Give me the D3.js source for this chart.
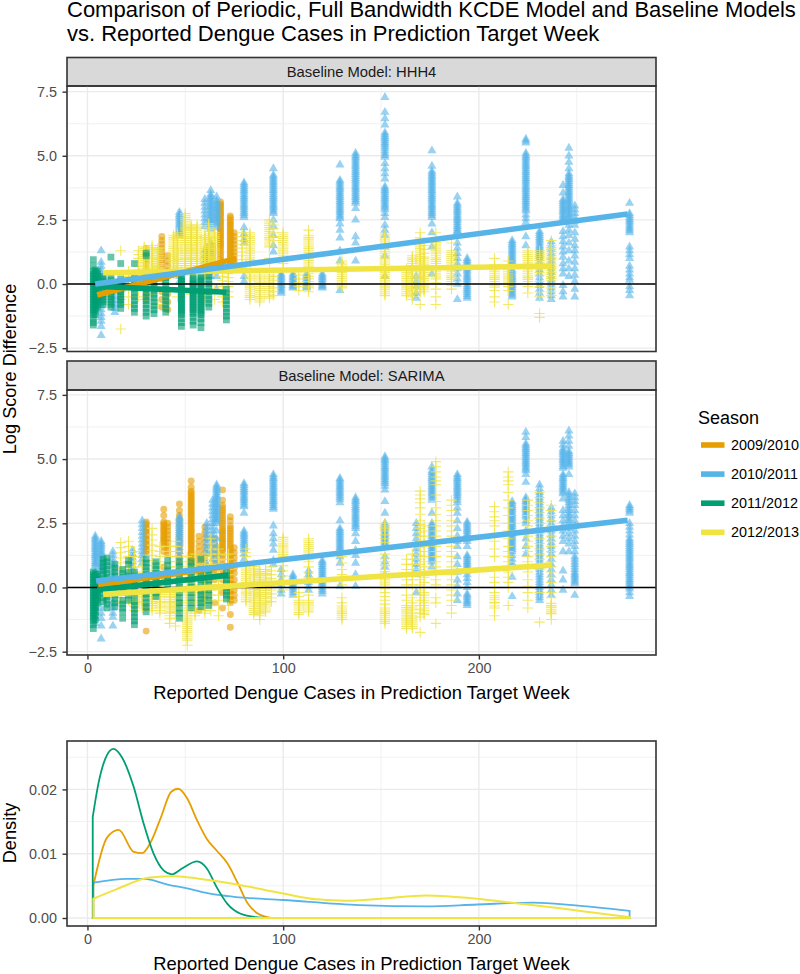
<!DOCTYPE html>
<html>
<head>
<meta charset="utf-8">
<script src="https://cdn.jsdelivr.net/npm/d3@7"></script>
<style>
body { margin: 0; background: #fff; }
text { font-family: "Liberation Sans", Arial, sans-serif; }
</style>
</head>
<body>
<div id="chart"></div>
<script>
var seasons = ["2009/2010", "2010/2011", "2011/2012", "2012/2013"];
var seasonColors = ["#E69F00", "#56B4E9", "#009E73", "#F0E442"];

// each row: cases in the target week, then the log score differences read at that x
var hhh4Orange = [
	[30, 1.4,1.25,1.1,.95,.8,.6,.4,.2,-.2,-.4,-.6],
	[38, 1.85,1.7,1.55,1.4,1.25,1.1,.95,.8,.6,.4,.2,-.3,-.6,-.9],
	[41, 1.1,.9,.7,.5,.3,-.4,-.7,-1],
	[61, 1.45,1.3,1.15,1,.9,.8,.7,.6,.5,.4],
	[64, 1.5,1.35,1.2,1.05,.9,.75,.6,.5],
	[68, 3.2,3.05,2.9,2.75,2.6,2.45,2.3,2.15,2,1.85,1.7,1.55,1.4,1.2,1,.85,.7,.55],
	[73, 2.65,2.5,2.35,2.2,2.05,1.9,1.75,1.6,1.45,1.3,1.15,1,.85,.7,.55],
	[73, 2.58,2.42,2.28,2.12,1.98,1.82,1.68,1.52,1.38,1.22,1.08,.92,.78,.62],
	[75, 2,1.85,1.7,1.55,1.4,1.25,1.1,.95,.8,.65],
	[68, 3.12,2.98,2.82,2.68,2.52,2.38,2.22,2.08,1.92,1.78,1.62,1.48,1.3,1.1,.92,.78,.62]
];
var hhh4Blue = [
	[7, 1.3,.85,.7,.55,.4,.2,-.1,-.4,-.55,-.7,-.85,-1,-1.15,-1.3,-1.45,-1.65,-2],
	[14, -.3,-.5,-.65,-.8,-.95,-1.1],
	[47, 2.8,2.65,2.5,2.35,2.2,2.05,1.9,.3,.1],
	[47, 2.72,2.58,2.42,2.28,2.12,1.98],
	[60, 3.3,3.15,3,2.85,2.7,2.55,2.4,2.25,1.3,1.1,.9],
	[63, 3.65,3.5,3.35,3.2,3.05,2.9,2.75,2.6,2.45,2.3,2.15,1.6,1.2,.8,.3],
	[63, 3.42,3.28,3.12,2.98,2.82,2.68,2.52,2.38],
	[66, 3.4,3.25,3.1,2.95,2.8,2.65,2.5,2.35,2.2,.6,.3,-.2],
	[66, 3.18,3.02,2.88,2.72,2.58,2.42],
	[80, 3.95,3.8,3.65,3.5,3.35,3.2,3.05,2.9,2.75,2.6,2.2,1.95,1.75,1.6,.3,.1],
	[80, 3.88,3.72,3.58,3.42,3.28,3.12,2.98,2.82,2.68],
	[95, 4.5,4.25,4.1,3.95,3.8,3.65,3.5,3.35,3.2,3.05,2.9,2.75,2.5,2.25,1.9,1.5,1.25],
	[95, 4.18,4.02,3.88,3.72,3.58,3.42,3.28,3.12,2.98,2.82],
	[99, .4,.25,.1,-.05,-.2,-.35],
	[99, .32,.18,.02,-.12,-.28],
	[105, .4,.25,.1,-.05,-.15],
	[105, .32,.18,.02,-.1],
	[112, .4,.25,.1,-.05,-.15],
	[112, .32,.18,.02,-.1],
	[120, .4,.25,.1,-.05,-.15],
	[120, .32,.18,.02,-.1],
	[129, 4.65,4.05,3.9,3.75,3.6,3.45,3.3,3.15,3,2.85,2.7,2.55,2.35,2.1,1.8,1.3,.9,-.25],
	[129, 3.98,3.82,3.68,3.52,3.38,3.22,3.08,2.92,2.78,2.62],
	[137, 5.1,4.95,4.8,4.65,4.5,4.35,4.2,4.05,3.9,3.75,3.6,3.45,3.3,3.15,2.95,2.5,1.85,1.6,.9],
	[137, 5.02,4.88,4.72,4.58,4.42,4.28,4.12,3.98,3.82,3.68,3.52,3.38,3.22],
	[152, 7.28,6.7,6.45,6.2,5.9,5.75,5.6,5.45,5.3,5.1,4.95,4.7,4.5,4.3,4.1,3.8,3.65,3.5,3.35,3.2,3.05,2.9,2.75,2.6,2.3,2.1,1.9,1.45,1.1,.6,.3],
	[152, 5.82,5.68,5.52,5.38,5.2,5.02,3.72,3.58,3.42,3.28,3.12,2.98],
	[168, .3,.1,-.1,-.35,-.55],
	[176, 5.2,4.6,4.4,4.25,4.1,3.95,3.8,3.65,3.5,3.35,3.2,3.05,2.9,2.75,2.6,2.35,2,1.45,.4],
	[176, 4.32,4.18,4.02,3.88,3.72,3.58,3.42,3.28,3.12,2.98,2.82,2.68],
	[189, 3.4,3.15,3,2.85,2.7,2.55,2.4,2.25,2.1,2,1.6,1.4,1.2,1,.8,.6,.4,.2,0,-.6],
	[189, 3.08,2.92,2.78,2.62,2.48,2.32,2.18,2.05],
	[194, 1,.85,.7,.55,.4,.25,.1,-.1,-.25,-.4,-.55],
	[194, .92,.78,.62,.48,.32,.18,-.02,-.18,-.32,-.48],
	[217, 1.7,1.55,1.4,1.25,1.1,.95,.8,.55,.4,.25,.1,-.05,-.2,-.35,-.5],
	[217, 1.62,1.48,1.32,1.18,1.02,.88,.48,.32,.18,.02,-.12,-.28,-.42],
	[224, 5.65,5.5,5.1,4.95,4.8,4.65,4.5,4.35,4.2,4.05,3.9,3.75,3.6,3.45,3.3,3.15,3,2.85,2.7,2.55,2.4,1.85,1.5],
	[224, 5.58,5.02,4.88,4.72,4.58,4.42,4.28,4.12,3.98,3.82,3.68,3.52,3.38,3.22,3.08,2.92],
	[231, 2.05,1.9,1.75,1.6,1.45,1.3,1.15,1,.85,.7,.55,.4,.25,.1,-.05,-.2,-.35,-.55],
	[231, 1.98,1.82,1.68,1.52,1.38,1.22,1.08],
	[237, 1.65,1.5,1.35,1.2,1.05,.9,.75,.6,.45,.3,.15,0,-.15,-.3,-.45,-.6],
	[243, 3.85,3.55,3.3,3.15,3,2.85,2.7,2.55,2.4,2.05,1.85,1.65,1.45,1.25,1.05,.8,.6,.4,-.05,-.3,-.5],
	[243, 3.22,3.08,2.92,2.78,2.62,2.48],
	[246, 5.3,5,4.75,4.5,4.3,4.15,4,3.85,3.7,3.55,3.4,3.25,3.1,2.95,2.8,2.65,2.5,2.3,2.1,1.9,1.6,1.3,.9,.6,.3],
	[246, 4.22,4.08,3.92,3.78,3.62,3.48,3.32,3.18,3.02,2.88,2.72,2.58],
	[249, 3.05,2.9,2.75,2.6,2.45,2.3,2,1.75,1.5,1.3,1.1,.85,.6,.35,.1,-.2,-.5],
	[277, 3.15,2.75,2.6,2.45,2.3,2.15,2,1.45,1.3,1.15,1,.7,.55,.4,.25,.15,-.1,-.25,-.45],
	[277, 2.68,2.52,2.38,2.22,2.08]
];
var hhh4Green = [
	[3, .95,.7,.5,.4,.3,.2,.1,0,-.1,-.2,-.3,-.4,-.5,-.6,-.7,-.8,-.9,-1,-1.1,-1.2,-1.35,-1.5,-1.6],
	[4, .55,.45,.35,.25,.15,.05,-.05,-.15,-.25,-.35,-.45,-.55,-.65,-.75,-.85,-.95,-1.05,-1.2],
	[5, .5,.4,.3,.2,.1,0,-.1,-.2,-.3,-.4,-.5,-.6,-.7,-.8,-.9],
	[8, .3,.2,.1,0,-.1,-.2,-.3,-.4,-.5,-.6,-.7,-.8],
	[12, 1.05,.25,.15,.05,-.1,-.2,-.3,-.4,-.5,-.6,-.7,-.8,-.9],
	[17, .8,.2,.1,0,-.1,-.2,-.3,-.4,-.5,-.6,-.7,-.8,-.95],
	[24, .8,.25,.1,-.05,-.2,-.35,-.5,-.65,-.8,-.95,-1.1],
	[30, 1.2,1.1,.25,.1,-.05,-.2,-.35,-.5,-.65,-.8,-.95,-1.1,-1.25],
	[34, .2,.05,-.1,-.25,-.4,-.55,-.7,-.85,-1,-1.15],
	[40, .25,.1,-.05,-.2,-.35,-.5,-.65,-.8,-.95,-1.1],
	[48, .3,.2,.1,0,-.15,-.3,-.45,-.6,-.75,-.9,-1.05,-1.2,-1.35,-1.5,-1.65],
	[48, .12,-.08,-.22,-.38,-.52,-.68,-.82,-.98,-1.12],
	[54, .35,.2,.05,-.1,-.25,-.4,-.55,-.7,-.85,-1,-1.15,-1.3,-1.45,-1.6],
	[54, .12,-.02,-.18,-.32,-.48,-.62,-.78,-.92,-1.08],
	[58, .3,.15,0,-.15,-.3,-.45,-.6,-.75,-.9,-1.05,-1.2,-1.35,-1.5,-1.7],
	[58, .22,.08,-.08,-.22,-.38,-.52,-.68,-.82,-.98,-1.12],
	[62, .3,.15,0,-.15,-.3,-.45,-.6,-.75,-.9],
	[71, -.2,-.35,-.5,-.65,-.8,-.95,-1.1,-1.25,-1.4]
];
var hhh4Yellow = [
	[17, 1.3,-.3,-.6,-1.75],
	[21, .5,.3,.2,-.2,-.5,-.8],
	[26, 1.3,1.15,1,.85,.7,.55,.4,-.2,-.5],
	[29, 1.45,1.3,1.15,1,.85,.7,.55,.4,-.6],
	[29, 1.38,1.22,1.08,.92,.78,.62,.48],
	[33, 1.5,1.35,1.2,1.05,.9,.75,.6,-.2,-.4],
	[33, 1.42,1.28,1.12,.98,.82,.68],
	[36, 1.4,1.25,1.1,.95,.8,.65,.5,-.8],
	[36, 1.32,1.18,1.02,.88,.72,.58],
	[44, 1.9,1.75,1.6,1.45,1.3,1.15,1,.85,.7,.55,.4],
	[44, 1.82,1.68,1.52,1.38,1.22,1.08,.92,.78,.62,.48],
	[46, 2,1.85,1.7,1.55,1.4,1.25,1.1,.95,.8,.65,.5,-.5],
	[46, 1.92,1.78,1.62,1.48,1.32,1.18,1.02,.88,.72,.58],
	[50, 2.75,2.6,2.45,2.3,2.15,2,1.85,1.7,1.55,1.4,1.25,1.1,.95,.8,.65,.5],
	[50, 2.68,2.52,2.38,2.22,2.08,1.92,1.78,1.62,1.48,1.32,1.18,1.02,.88,.72,.58],
	[53, 2.3,2.15,2,1.85,1.7,1.55,1.4,1.25,1.1,.95,.8,.65,.5,.35,-.4],
	[53, 2.22,2.08,1.92,1.78,1.62,1.48,1.32,1.18,1.02,.88,.72,.58,.42],
	[56, 2.3,2.15,2,1.85,1.7,1.55,1.4,1.25,1.1,.95,.8],
	[56, 2.22,2.08,1.92,1.78,1.62,1.48,1.32,1.18,1.02,.88],
	[60, 1.9,1.75,1.6,1.45,1.3,1.15,1,.85,.7,.55,.4,-.4,-.6],
	[60, 1.82,1.68,1.52,1.38,1.22,1.08,.92,.78,.62,.48],
	[62, 2.35,2.2,2.05,1.9,1.75,1.6,1.45,1.3,1.15,1,.85,.7,.55],
	[62, 2.28,2.12,1.98,1.82,1.68,1.52,1.38,1.22,1.08,.92,.78,.62],
	[65, 2,1.85,1.7,1.55,1.4,1.25,1.1,.95,.8,.65,.5,-.2,-.6],
	[65, 1.92,1.78,1.62,1.48,1.32,1.18,1.02,.88,.72,.58],
	[69, .6,.45,.3,.15,-.1,-.3,-.5,-.7],
	[72, .55,.4,.25,.1,-.1,-.3,-.5],
	[79, 2,1.85,1.7,1.55,1.4,1.25,1.1,.95,.8,.65],
	[83, 2,1.85,1.7,1.55,1.4,1.25,1.1,.95,.8,.35,.2,0,-.15,-.3,-.45,-.6],
	[83, 1.92,1.78,1.62,1.48,1.32,1.18,1.02,.88,.28,.12,-.08,-.22,-.38,-.52],
	[88, .35,.2,.05,-.1,-.25,-.4,-.55,-.7],
	[88, .28,.12,-.02,-.18,-.32,-.48,-.62],
	[93, 2.5,2.35,2.2,2.05,1.9,1.75,1.6,1.45,1,.85,.35,.2,.05,-.1,-.25,-.4,-.55],
	[93, 2.42,2.28,2.12,1.98,1.82,1.68,1.52,.28,.12,-.02,-.18,-.32,-.48],
	[95, 2.3,2.15,2,1.85,1.7,.3,.15,0,-.15,-.3,-.45],
	[100, 2,1.85,1.7,1.55,1.4,1.25,1.1,.95,.8],
	[100, 1.92,1.78,1.62,1.48,1.32,1.18,1.02,.88],
	[108, .35,.2,.05,-.1,-.25],
	[113, 2.1,1.9,1.75,1.6,1.45,1.3,1.15,1,.85,.7,.4,.2,0,-.15,-.3],
	[113, 1.82,1.68,1.52,1.38,1.22,1.08,.92,.78,.3,.1,-.08],
	[130, .9,.75,.6,.45,.3,.15,0,-.15],
	[130, .82,.68,.52,.38,.22,.08,-.08],
	[152, 1.95,1.8,1.65,1.5,1.35,1.2,1.05,.9,.75,.6,.45,.3,.15,0,-.15,-.3,-.45],
	[152, 1.88,1.72,1.58,1.42,1.28,1.12,.98,.82,.68,.52,.38,.22,.08,-.08,-.22,-.38],
	[163, .6,.45,.3,.15,0,-.15,-.3,-.45],
	[163, .52,.38,.22,.08,-.08,-.22,-.38],
	[166, 1.1,.95,.8,.65,.5,.35,.2,.05,-.1,-.25,-.4,-.6],
	[166, 1.02,.88,.72,.58,.42,.28,.12,-.02,-.18,-.32,-.5],
	[170, 2,1.8,1.6,1.45,1.3,1.15,1,.85,.7,.55,.4,.25,.1,-.05,-.2,-.35,-.8],
	[170, 1.52,1.38,1.22,1.08,.92,.78,.62,.48,.32,.18,.02,-.12,-.28],
	[172, 1.5,1.35,1.2,1.05,.9,.75,.6,.45,.3,.15,0,-.15,-.3],
	[172, .98,.82,.68,.52,.38,.22,.08,-.08,-.22],
	[178, 2,1.7,1.55,1.4,1.25,1.1,.95,.8,.65,.5,.35,.2,.05,-.2,-.5,-.8],
	[178, 1.62,1.48,1.32,1.18,1.02,.88,.72,.58,.42,.28],
	[186, 1.6,1.3,1.15,1,.85,.7,.55,.4,.25,.1,-.05,-.2],
	[186, 1.22,1.08,.92,.78,.62,.48,.32,.18,.02],
	[208, 1,.75,.55,.4,.25,.1,-.05,-.25,-.5,-.7],
	[208, .62,.48,.32,.18,.02,-.12],
	[215, .9,.65,.5,.35,.2,.05,-.1,-.25,-.8],
	[215, .58,.42,.28,.12,-.02],
	[225, 1.3,1.15,1,.85,.7,.55,.4,.25,.1,-.1,-.35],
	[225, 1.22,1.08,.92,.78,.62,.48,.32,.18],
	[231, 1.3,1.15,1,.85,.7,.55,.35,.1,-.1,-.3,-.5,-1.15,-1.3],
	[231, 1.22,1.08,.92,.78,.62,.45],
	[237, 1.7,1.5,1.35,1.2,1.05,.9,.75,.6,.45,.3,.15,0,-.15,-.3,-.45],
	[237, 1.42,1.28,1.12,.98,.82,.68,.52,.38,.22]
];

var sarimaOrange = [
	[30, 2.55,2.4,2.25,2.1,1.95,1.8,1.65,1.5,1.35,.3,-.8,-1.7],
	[30, 2.48,2.32,2.18,2.02,1.88,1.72,1.58,1.42],
	[39, 3.05,2.8,2.55,2.4,2.25,2.1,1.95,1.8,1.6,1.4,.8,.4],
	[39, 2.48,2.32,2.18,2.02,1.88,1.72],
	[41, 2.5,2.35,2.2,2.05,1.9,1.75,1.6,1.45,1.3,.6],
	[47, 3.25,3,2.8,2.6,2.4,2.2,2,1.8,1.6,1.4,1.2,1,.7,.4,-.6],
	[53, 4.15,3.9,3.75,3.6,3.45,3.3,3.15,3,2.85,2.7,2.55,2.4,2.25,2.1,1.95,1.8,1.65,1.5,1.35,1.2,1.05,.9,.7,.5],
	[53, 3.68,3.52,3.38,3.22,3.08,2.92,2.78,2.62,2.48,2.32,2.18,2.02,1.88,1.72,1.58,1.42,1.28,1.12,.98],
	[57, 2,1.8,1.6,1.4,1.2,1,.8,.6,.4,-.9],
	[60, 2.35,2.15,1.95,1.75,1.55,1.35,1.15,.95,.75,.55,.35,.15,-.1,-.4],
	[65, 1.9,1.7,1.5,1.3,1.1,.9,.7,.5,.3,-.6],
	[69, 3.8,3.4,3.1,2.9,2.7,2.5,2.3,2.15,2,1.85,1.7,1.55,1.4,1.25,1.1,.9,.7,.5,.3,-.2,-.8],
	[69, 3.2,3,2.8,2.6,2.4,2.22,2.08,1.92,1.78,1.62,1.48],
	[73, 2.75,2.6,2.4,2.2,2,1.8,1.6,1.4,1.2,1,.8,.6,.4,.2,0,-.2,-.4,-.6,-1.05,-1.55],
	[73, 2.3,2.1,1.9,1.7,1.5,1.3,1.1,.9,.7,.5,.3,.1,-.1,-.3,-.5],
	[75, 1.55,1.35,1.15,.95,.75,.55,.3,.1,-.1,-.3,-.5]
];
var sarimaBlue = [
	[4, 2,1.85,1.7,1.55,1.4,1.25,1.1,.95,.8,.6,.4,.2,-.4,-.6,-.8,-1,-1.2,-1.4],
	[4, 1.92,1.78,1.62,1.48,1.32,1.18,1.02,.88],
	[7, 1.8,1.65,1.5,1.35,1.2,1,.8,.6,-.8,-1,-1.2,-1.5,-2],
	[7, 1.72,1.58,1.42,1.28,1.1,.9,.7],
	[13, 1.4,1.25,1.1,.95,.8,.6,.4,-.6,-.8,-1,-1.15,-1.5],
	[23, 1.45,1.3,1.15,1,.85,.7],
	[28, 2.6,2.45,2.3,2.15,2,1.85,1.7,1.55,1.4,1.25,1.1,.95],
	[47, 2.75,2.6,2.45,2.3,2.15,2,1.85,1.7,1.55,1.4,1.2,.9],
	[47, 2.68,2.52,2.38,2.22,2.08,1.92,1.78],
	[61, 2.5,2.35,2.2,2.05,1.9,1.75,1.6,1.45,1.3,.9,.6],
	[64, 3.4,3.25,3.1,2.95,2.8,2.65,2.5,2.35,2.2,2.05,1.9,1.7,1.4,1.1],
	[66, 4,3.85,3.7,3.55,3.4,3.25,3.1,2.95,2.8,2.65,2.5,2.2,1.9,1.6,1.3,1],
	[66, 3.92,3.78,3.62,3.48,3.32,3.18,3.02,2.88,2.72,2.58],
	[80, 4.05,3.9,3.75,3.6,3.45,3.3,3.15,2.9,2.2,2.05,1.9,1.75,1.6,1.45,1.3,1.1],
	[80, 3.98,3.82,3.68,3.52,3.38,3.22,2.12,1.98,1.82,1.68,1.52],
	[95, 4.4,4.25,4.1,3.95,3.8,3.65,3.5,3.35,3.2,3.05,2.4,2.1,1.9,1.7,1.45,1.05,.9],
	[95, 4.32,4.18,4.02,3.88,3.72,3.58,3.42,3.28,3.12],
	[99, .7,.5,.3,.1,-.1,-.25],
	[105, .5,.35,.2,.05,-.1,-.3],
	[105, .42,.28,.12,-.02,-.2],
	[113, .65,.5,.35,.2,.05,-.1],
	[120, 1.05,.9,.75,.6,.45,.3,.15,0,-.15,-.25],
	[120, .98,.82,.68,.52,.38,.22,.08,-.08],
	[129, 4.25,4.1,3.95,3.8,3.65,3.5,3.3,2.6,2.3,2.15,2,1.85,1.7,1.55,1.4,1.2,.95,.05],
	[129, 4.18,4.02,3.88,3.72,3.58,3.42,2.22,2.08,1.92,1.78,1.62,1.48],
	[137, 3.5,3.35,3.2,3.05,2.9,2.75,2.6,2.45,2.3,2.1,1.8,1.45,1.25,.95,.5,.05],
	[137, 3.42,3.28,3.12,2.98,2.82,2.68,2.52,2.38],
	[152, 5.1,4.95,4.8,4.65,4.5,4.35,4.2,4.05,3.8,3.35,2.9,2.5,2.35,2.2,2.05,1.9,1.75,1.6,1.2,1,.8,.5],
	[152, 5.02,4.88,4.72,4.58,4.42,4.28,4.12,3.95,2.42,2.28,2.12,1.98,1.82,1.68],
	[168, 2.5,2.3,2.1,1.9,1.7,1.5,1.3,1.1,.9,.7,.5,-.2],
	[176, 4.7,4.55,4.4,4.25,4.1,3.95,3.8,3.65,3.5,3.4,2.9,2.5,2.35,2.2,2.05,1.9,1.75,1.6,1.45,1.3,1.15,1,.8],
	[176, 4.48,4.32,4.18,4.02,3.88,3.72,3.58,2.42,2.28,2.12,1.98,1.82,1.68,1.52,1.38,1.22,1.08],
	[189, 4.4,4.25,4.1,3.95,3.8,3.65,3.5,3.3,3.1,2.9,2.6,2.3,2,1.8,1.6,1.2,.9,.6,.3,.05,-.25,-.5],
	[189, 4.32,4.18,4.02,3.88,3.72,3.58,3.4],
	[194, 2.55,2.4,2.25,2.1,1.95,1.8,1.6,1.25,1.1,.95,.8,.65,.5,.35,.2,0,-.25,-.4,-.55,-.7],
	[194, 2.48,2.32,2.18,2.02,1.88,1.18,1.02,.88,.72,-.32,-.48,-.62],
	[217, 3.35,3.2,3.05,2.9,2.75,2.6,2.45,2.3,2.15,2,1.85,1.7,1.55,1.4,1.25,1.1,.95,.8,.4,-.35],
	[217, 3.28,3.12,2.98,2.82,2.68,2.52,2.38,2.22,2.08,1.92,1.78,1.62,1.48],
	[224, 6.05,5.85,5.6,5.45,5.3,5.15,5,4.85,4.7,4.55,4.4,4.1,3.5,3.35,3.2,3.05,2.9,2.75,2.6,2.5,2.2,1.9,1.6,1.3],
	[224, 5.52,5.38,5.22,5.08,4.92,4.78,4.62,3.42,3.28,3.12,2.98,2.82],
	[231, 4,3.85,3.7,3.5,3.3,3.1,2.9,2.7,2.5,2.3,2.1,1.9,1.7,1.5,1.3,1.1,.9,.7,.5,.3,.1,-.1,-.3,-.5],
	[231, 3.6,3.4,3.2,3,2.8,2.6,2.4,2.2,2,1.8,1.6,1.4,1.2,1,.8,.6,.4,.2,0,-.2,-.4],
	[237, 3.1,2.95,2.8,2.65,2.5,2.35,2.2,2.05,1.9,1.75,1.6,1.45,1.3,1.1,.9,.7,.5,.3,.1,-.1,-.3],
	[243, 5.7,5.55,5.4,5.25,5.1,4.95,4.8,4.65,4.4,4.25,4.1,3.95,3.8,3.65,3.45,3,2.8,2.6,2.4,2.2,2,1.8,1.4,.65,.3,-.1],
	[243, 5.32,5.18,5.02,4.88,4.72,4.32,4.18,4.02,3.88,3.72],
	[246, 6.1,5.9,5.7,5.5,5.3,5.15,5,4.85,4.7,4.4,3.7,3.5,3.3,3.1,2.9,2.7,2.5,2.3,2.1,1.9,1.7,1.4],
	[246, 5.22,5.08,4.92,4.78,3.6,3.4,3.2,3,2.8,2.6],
	[249, 3.65,3.5,3.35,3.2,3,2.8,2.6,2.4,2.2,2,1.8,1.6,1.4,1.2,1,.8,.6,.45,.3,.15,-.3],
	[249, 1.1,.9,.7,.52,.38,.22],
	[277, 3.2,3.05,2.9,2.5,2.35,2.2,2.05,1.9,1.75,1.6,1.45,1.3,1.15,1,.85,.7,.55,.4,.25,.1,-.05,-.2,-.35],
	[277, 3.12,2.98,1.82,1.68,1.52,1.38,1.22,1.08,.92,.78,.62,.48,.32,.18,.02]
];
var sarimaGreen = [
	[3, .6,.5,.4,.3,.2,.1,0,-.1,-.2,-.3,-.4,-.5,-.6,-.7,-.8,-.9,-1,-1.1,-1.2,-1.3,-1.45,-1.6],
	[4, .55,.45,.35,.25,.15,.05,-.05,-.15,-.25,-.35,-.45,-.55,-.65,-.75,-.85,-.95,-1.1,-1.25],
	[5, .5,.4,.3,.2,.1,0,-.1,-.2,-.3,-.4,-.5,-.6],
	[8, 1.1,.95,.8,.65,.5,.35,.2,.05,-.1,-.25,-.4,-.55],
	[10, 1.15,1,.85,.7,.55,.4,.25,.1,-.05,-.2,-.35,-.5,-.65,-.8],
	[14, .9,.75,.6,.45,.3,.15,0,-.15,-.3,-.45,-.6,-.75],
	[18, .7,.55,.4,.25,.1,-.05,-.2,-.5,-.65,-.8,-.95,-1.2],
	[21, 1.05,.9,.6,.45,.3,.15,-.1,-.3,-.5],
	[24, .6,.45,.3,.15,0,-.15,-.3,-.55,-.7,-.85,-1,-1.15,-1.3,-1.45],
	[30, 1.1,.95,.8,.65,.5,.35,.2,.05,-.1,-.25,-.4,-.6,-.75,-.95],
	[35, 1,.85,.7,.55,.4,.25,.1,-.05,-.2,-.35],
	[41, 1.05,.85,.65,.45,.25,.05],
	[47, 1,.8,.6,.4,.2,0,-.2,-.4,-.6,-.8,-1,-1.2],
	[53, 1,.8,.6,.4,.2,0,-.2,-.4,-.6,-.8],
	[58, 1.1,.7,.5,.3,.1,-.15,-.3,-.45,-.6,-.75],
	[62, .7,.5,.3,.1,-.1,-.3,-.5,-.7],
	[71, .6,.45,.3,.15,0,-.15,-.3,-.45]
];
var sarimaYellow = [
	[17, 1.75,1.55,1.35,1.15,.95,.75,.55,-.4,-.6],
	[21, 1.8,1.6,1.4,1.2,1,.8,.6,-.5],
	[24, 1.4,1.2,1,.8,.6,.4,.2,-.3,-.6,-.9],
	[24, -.15,-.22,-.38,-.45,-.52,-.68,-.75],
	[28, 1,.8,.6,.4,.2,0,-.2,-.4,-.6],
	[28, -.12,-.28,-.35,-.48,-.55,-.68,-.8],
	[33, 2.3,2.05,1.85,1.65,1.45,1.25,1.05,.85,.65,.45,.25,.05,-.15,-.35,-.55],
	[33, -.08,-.25,-.42,-.48,-.62,-.7,-.8,-.9],
	[37, 1.6,1.4,1.2,1,.8,.6,.4,.2,0,-.2,-.4,-.6,-.8],
	[37, -.12,-.28,-.35,-.48,-.55,-.68,-.75,-.9,-1],
	[42, 1.6,1.4,1.2,1,.8,.6,.4,.2,0,-.2,-.4,-.6,-.8,-1,-1.2,-1.4],
	[42, -.1,-.28,-.35,-.48,-.55,-.68,-.75,-.88,-.95,-1.1],
	[45, 1.8,1.6,1.4,1.2,1,.8,.6,.4,.2,0,-.2,-.4,-.6,-.8,-1,-1.2,-1.5],
	[45, -.12,-.28,-.35,-.48,-.55,-.68,-.75,-.88,-.95],
	[51, 1.2,1,.8,.6,.4,.2,0,-.2,-.4,-.6,-.8,-1,-1.15,-1.3,-1.45,-1.6,-1.75,-1.9,-2.05,-2.25],
	[51, -.1,-.3,-.5,-.7,-.9,-1.08,-1.22,-1.38,-1.52,-1.68,-1.82,-1.98],
	[55, 1.3,1.1,.9,.7,.5,.3,.1,-.1,-.3,-.5,-.7,-.9,-1.1],
	[55, -.2,-.4,-.6,-.8,-1],
	[60, 1.2,1,.8,.6,.4,.2,0,-.2,-.4,-.6,-.8,-1],
	[60, -.1,-.3,-.5,-.7,-.9],
	[63, 1.9,1.7,1.5,1.3,1.1,.9,.7,.5,.3,.1,-.1,-.3,-.5,-.9],
	[67, 1.5,1.3,1.1,.9,.7,.5,.3,.1,-.1,-.3,-.5,-.7,-1.1],
	[72, 1.3,1.1,.9,.7,.5,.3,.1,-.1,-.3,-.5,-.7],
	[81, 1.5,1.35,1.2,.95,.8,.65,.5,.35,.2,.05,-.1,-.25,-.4,-.55],
	[81, .88,.72,.58,.42,.28,.12,-.02,-.18,-.32,-.48],
	[85, .9,.75,.6,.45,.3,.15,0,-.15,-.3,-.45,-.6,-.75,-.9,-1.05],
	[85, .82,.68,.52,.38,.22,.08,-.08,-.22,-.38,-.52,-.68,-.82,-.98],
	[88, .7,.55,.4,.25,.1,-.05,-.2,-.35,-.5,-.65,-.8,-.95,-1.1,-1.25],
	[88, .62,.48,.32,.18,.02,-.12,-.28,-.42,-.58,-.72,-.88,-1.02],
	[91, .7,.55,.4,.25,.1,-.05,-.2,-.35,-.5,-.65,-.8,-.95],
	[91, .62,.48,.32,.18,.02,-.12,-.28,-.42,-.58,-.72,-.88],
	[94, .8,.65,.5,.35,.2,.05,-.1,-.25,-.4,-.55],
	[100, 1.95,1.8,1.65,1.5,1.35,1.2,1.05,.85,.65,.45,.25,-.1],
	[100, 1.88,1.72,1.58,1.42,1.28,1.12],
	[108, -.2,-.35,-.5,-.65,-.8,-1.05],
	[108, -.58,-.72,-.88,-.98],
	[113, 1.9,1.75,1.6,1.45,1.3,1.15,1,.8,.6,.4,-.3,-.5,-.65,-.8,-.95],
	[113, 1.82,1.68,1.52,1.38,1.22,1.08,-.58,-.72,-.88],
	[130, 1.2,.95,.7,.5,.3,.1,-.4,-.6,-.8,-.95,-1.1,-1.25],
	[130, -.72,-.88,-1.02,-1.18],
	[152, 2.5,2.35,2.2,2.05,1.9,1.75,1.3,1.15,1,.85,.7,.55,.4,.25,.1,-.05,-.2,-.35,-.5,-.65,-.8,-.95,-1.1,-1.25,-1.4],
	[152, 2.42,2.28,.62,.48,.32,.18,-.88,-1.02,-1.18,-1.32],
	[163, 1.1,.9,.7,.5,.3,.1,-.3,-.5,-.7,-.85,-1,-1.15,-1.3,-1.45,-1.6],
	[163, -.78,-.92,-1.08,-1.22,-1.38,-1.52],
	[166, 1.3,1.1,.9,.7,.5,.3,.1,-.4,-.6,-.8,-1,-1.15,-1.3,-1.45,-1.6],
	[166, -.72,-.88,-1.08,-1.22,-1.38,-1.52],
	[170, 3.75,3.6,3.45,3.3,3.1,2.85,2.6,2.45,2.3,2.15,2,1.85,1.7,1.55,1.4,1.25,1.1,.9,.7,.5,.3,.1,-.1,-.3,-.5,-.7,-.85,-1,-1.15,-1.75],
	[172, 2.4,2.2,2,1.8,1.6,1.4,1.2,1,.8,.6,.4,.2,0,-.2,-.4,-.6,-.8,-1],
	[172, -.3,-.5,-.7,-.9,-1.05],
	[178, 4.9,4.7,4.5,4.3,4.15,4,3.6,3.35,3.1,2.85,2.6,2.4,2.2,2,1.8,1.6,1.4,1.2,1,.8,.6,.3,.1,-.4,-.6,-1.4],
	[186, 3.4,3.2,3,2.8,2.6,2.4,2.2,2,1.8,1.6,1.4,1.2,1,.8,.5,.3,.1,-.1,-.3,-.5,-.7,-1],
	[208, 3.15,2.95,2.75,2.6,2.4,2.1,1.8,1.5,1.2,.4,.2,0,-.2,-.4,-.6,-.8,-1.1],
	[208, -.32,-.48,-.58,-.72],
	[215, 4.5,4.3,4.15,4,3.7,3.4,3.1,2.8,2.5,2.2,1.9,1.6,1.4,1.2,1,.8,.6,.4,.2,0,-.7],
	[225, 3.4,3.2,3,2.8,2.6,2.4,2.2,2,1.8,1.6,1.4,1.2,1,.8,.6,.3,.05,-.2,-.5,-.8],
	[231, 3.7,3.5,3.3,3.1,2.9,2.7,2.5,2.3,2.1,1.9,1.7,1.5,1.3,1.1,.9,.7,-.2,-1.35],
	[237, 3.2,3,2.8,2.6,2.4,2.2,2,1.8,1.6,1.4,1.2,1,.8,.6,.4,.2,0,-.2,-.4,-.7,-.85,-1,-1.25],
	[237, -.62,-.72,-.78,-.92,-1.02]
];

// end points of the fitted lines, one array per season
var hhh4LineX = [[5, 76], [4, 276], [4, 71], [8, 237]];
var hhh4LineY = [[-.43, 1], [0, 2.73], [-.08, -.32], [.44, .7]];
var sarimaLineX = [[5.5, 73], [4.4, 276], [5, 72], [8, 237]];
var sarimaLineY = [[.1, .85], [.25, 2.62], [-.1, .48], [-.27, .87]];

var densityX = [
	[3, 10, 16, 23.6, 28, 32, 37.6, 42.7, 46.4, 51, 56, 61, 66, 71.5, 77, 82, 87, 94],
	[3, 20, 29, 41, 51, 64, 75, 100, 139, 173, 199, 228, 248, 277],
	[2.7, 5.6, 9.9, 13.3, 17.6, 23.6, 28.7, 33.8, 38.9, 43.2, 48.3, 56, 61, 66, 71.5, 78, 87, 92],
	[3, 15, 32, 45, 57, 75, 100, 117, 132, 150, 173, 199, 219, 241.5, 265, 277]
];
var densityY = [
	[.005, .0125, .0137, .0103, .0101, .0116, .0157, .0196, .0201, .0186, .0152, .0123, .0105, .0085, .0053, .0022, .0007, 0],
	[.0055, .0061, .0061, .0052, .0046, .0037, .0033, .0028, .002, .0018, .0021, .0024, .002, .0011],
	[.0157, .0209, .0253, .0263, .025, .0204, .0147, .01, .0074, .0068, .0077, .0088, .0077, .0048, .0022, .0007, .0001, 0],
	[.003, .0045, .0063, .0065, .0061, .0053, .0038, .0029, .0027, .003, .0035, .003, .0023, .0015, .0006, .00015]
];

var xTicks = [0, 100, 200], xMinor = [50, 150, 250];
var scoreTicks = [-2.5, 0, 2.5, 5, 7.5], scoreMinor = [-1.25, 1.25, 3.75, 6.25];
var densityTicks = [0, .01, .02], densityMinor = [.005, .015, .025];
var xTitle = "Reported Dengue Cases in Prediction Target Week";
var titleLines = [
	"Comparison of Periodic, Full Bandwidth KCDE Model and Baseline Models",
	"vs. Reported Dengue Cases in Prediction Target Week"
];

var conf = { width: 800, height: 974, left: 67, right: 656 };
var borderColor = "#333333", gridColor = "#ebebeb", tickColor = "#4d4d4d";
var fontFamily = '"Liberation Sans", Arial, sans-serif';

var $svg = d3.select("#chart").append("svg")
	.attr("width", conf.width)
	.attr("height", conf.height);

var x = d3.scaleLinear().domain([-10.45, 290.5]).range([conf.left, conf.right]);

// ggplot shape 3, drawn as a stroked plus
var plusType = {
	draw: function(ctx, size) {
		var r = Math.sqrt(size) / 2;
		ctx.moveTo(-r, 0); ctx.lineTo(r, 0);
		ctx.moveTo(0, -r); ctx.lineTo(0, r);
	}
};

var seasonSymbols = [
	d3.symbol().type(d3.symbolCircle).size(38),
	d3.symbol().type(d3.symbolTriangle).size(36),
	d3.symbol().type(d3.symbolSquare).size(46),
	d3.symbol().type(plusType).size(110)
];

var flatten = function(rows) {
	var res = [];
	rows.forEach(function(row) {
		row.slice(1).forEach(function(v) { res.push({ x: row[0], y: v }); });
	});
	return res;
};

var drawGrid = function($g, y, yTicks, yMinor, top, bottom) {
	$g.selectAll("line.minor-x").data(xMinor).enter().append("line").attr("class", "minor-x")
		.attr("x1", x).attr("x2", x).attr("y1", top).attr("y2", bottom)
		.attr("stroke", gridColor).attr("stroke-width", 0.7);
	$g.selectAll("line.minor-y").data(yMinor).enter().append("line").attr("class", "minor-y")
		.attr("x1", conf.left).attr("x2", conf.right).attr("y1", y).attr("y2", y)
		.attr("stroke", gridColor).attr("stroke-width", 0.7);
	$g.selectAll("line.major-x").data(xTicks).enter().append("line").attr("class", "major-x")
		.attr("x1", x).attr("x2", x).attr("y1", top).attr("y2", bottom)
		.attr("stroke", gridColor).attr("stroke-width", 1.4);
	$g.selectAll("line.major-y").data(yTicks).enter().append("line").attr("class", "major-y")
		.attr("x1", conf.left).attr("x2", conf.right).attr("y1", y).attr("y2", y)
		.attr("stroke", gridColor).attr("stroke-width", 1.4);
};

var drawBorder = function($g, top, bottom) {
	$g.append("rect")
		.attr("x", conf.left).attr("y", top)
		.attr("width", conf.right - conf.left).attr("height", bottom - top)
		.attr("fill", "none").attr("stroke", borderColor).attr("stroke-width", 1.6);
};

var styleAxis = function($axis) {
	$axis.select(".domain").remove();
	$axis.selectAll(".tick line").attr("stroke", borderColor).attr("stroke-width", 1.4);
	$axis.selectAll(".tick text")
		.attr("fill", tickColor)
		.style("font-size", "14.4px")
		.style("font-family", fontFamily);
};

var drawXAxis = function($g, bottom) {
	$g.append("g")
		.attr("transform", "translate(0," + bottom + ")")
		.call(d3.axisBottom(x).tickValues(xTicks).tickSize(4.5).tickPadding(3).tickFormat(d3.format("d")))
		.call(styleAxis);
	$g.append("text")
		.attr("x", 361.5)
		.attr("y", bottom + 44)
		.attr("text-anchor", "middle")
		.attr("fill", "#000")
		.style("font-size", "18.4px")
		.text(xTitle);
};

var drawPanel = function(name, rows, lineX, lineY, top, bottom, stripTop, domain, showX) {
	var y = d3.scaleLinear().domain(domain).range([bottom, top]);
	var $g = $svg.append("g").attr("class", "panel");

	$g.append("rect")
		.attr("x", conf.left).attr("y", stripTop)
		.attr("width", conf.right - conf.left).attr("height", top - stripTop)
		.attr("fill", "#d9d9d9").attr("stroke", borderColor).attr("stroke-width", 1.6);
	$g.append("text")
		.attr("x", 361.5)
		.attr("y", (stripTop + top) / 2 + 5)
		.attr("text-anchor", "middle")
		.attr("fill", "#1a1a1a")
		.style("font-size", "14.8px")
		.text("Baseline Model: " + name);

	drawGrid($g, y, scoreTicks, scoreMinor, top, bottom);

	// green sits on top of the other seasons in the picture
	[0, 1, 3, 2].forEach(function(s) {
		var $pts = $g.append("g").attr("class", "season-" + s);
		$pts.selectAll("path").data(flatten(rows[s])).enter().append("path")
			.attr("transform", function(d) { return "translate(" + x(d.x) + "," + y(d.y) + ")"; })
			.attr("d", seasonSymbols[s])
			.attr("fill", s === 3 ? "none" : seasonColors[s])
			.attr("stroke", s === 3 ? seasonColors[s] : "none")
			.attr("stroke-width", s === 3 ? 1.1 : 0)
			.attr("opacity", s === 3 ? 0.8 : 0.6);
	});

	$g.append("line")
		.attr("x1", conf.left).attr("x2", conf.right)
		.attr("y1", y(0)).attr("y2", y(0))
		.attr("stroke", "#000").attr("stroke-width", 1.6);

	var line = d3.line()
		.x(function(d) { return x(d[0]); })
		.y(function(d) { return y(d[1]); });

	// blue was drawn last in the picture
	[0, 2, 3, 1].forEach(function(s) {
		$g.append("path")
			.attr("d", line(d3.zip(lineX[s], lineY[s])))
			.attr("fill", "none")
			.attr("stroke", seasonColors[s])
			.attr("stroke-width", 5.6);
	});

	drawBorder($g, top, bottom);

	$g.append("g")
		.attr("transform", "translate(" + conf.left + ",0)")
		.call(d3.axisLeft(y).tickValues(scoreTicks).tickSize(4.5).tickPadding(5.5)
			.tickFormat(d3.format(".1f")))
		.call(styleAxis);

	if (showX) drawXAxis($g, bottom);
};

drawPanel("HHH4", [hhh4Orange, hhh4Blue, hhh4Green, hhh4Yellow], hhh4LineX, hhh4LineY,
	86, 351.5, 57.5, [-2.63, 7.72], false);
drawPanel("SARIMA", [sarimaOrange, sarimaBlue, sarimaGreen, sarimaYellow], sarimaLineX, sarimaLineY,
	390, 655, 361, [-2.63, 7.69], true);

// density panel
var drawDensity = function(top, bottom) {
	// y(0) lands on a whole pixel so the yellow baseline hides the ones under it
	var y = d3.scaleLinear().domain([-.001244, .02753]).range([bottom, top]);
	var $g = $svg.append("g").attr("class", "density");

	drawGrid($g, y, densityTicks, densityMinor, top, bottom);

	var area = d3.area()
		.x(function(d) { return x(d[0]); })
		.y0(y(0))
		.y1(function(d) { return y(d[1]); })
		.curve(d3.curveMonotoneX);

	seasons.forEach(function(name, s) {
		$g.append("path")
			.attr("d", area(d3.zip(densityX[s], densityY[s])))
			.attr("fill", "none")
			.attr("stroke", seasonColors[s])
			.attr("stroke-width", s === 3 ? 2 : 1.8);
	});

	drawBorder($g, top, bottom);

	$g.append("g")
		.attr("transform", "translate(" + conf.left + ",0)")
		.call(d3.axisLeft(y).tickValues(densityTicks).tickSize(4.5).tickPadding(5.5)
			.tickFormat(d3.format(".2f")))
		.call(styleAxis);

	drawXAxis($g, bottom);
};
drawDensity(741, 926);

// title and rotated axis titles
$svg.selectAll("text.plot-title").data(titleLines).enter().append("text")
	.attr("class", "plot-title")
	.attr("x", 67)
	.attr("y", function(d, i) { return 17 + i * 24; })
	.attr("fill", "#000")
	.style("font-size", "22px")
	.text(function(d) { return d; });

$svg.append("text")
	.attr("transform", "translate(15.5,369) rotate(-90)")
	.attr("text-anchor", "middle")
	.style("font-size", "18.2px")
	.text("Log Score Difference");
$svg.append("text")
	.attr("transform", "translate(15.5,833) rotate(-90)")
	.attr("text-anchor", "middle")
	.style("font-size", "18.2px")
	.text("Density");

// legend
var legendY = d3.scalePoint().domain(seasons).range([445, 532.3]);
var $legend = $svg.append("g").attr("class", "legend");
$legend.append("text")
	.attr("x", 698).attr("y", 424)
	.style("font-size", "18px")
	.text("Season");
seasons.forEach(function(name, s) {
	$legend.append("line")
		.attr("x1", 701).attr("x2", 724.5)
		.attr("y1", legendY(name)).attr("y2", legendY(name))
		.attr("stroke", seasonColors[s])
		.attr("stroke-width", 5.6);
	$legend.append("text")
		.attr("x", 731).attr("y", legendY(name) + 5)
		.style("font-size", "14.4px")
		.text(name);
});
</script>
</body>
</html>
